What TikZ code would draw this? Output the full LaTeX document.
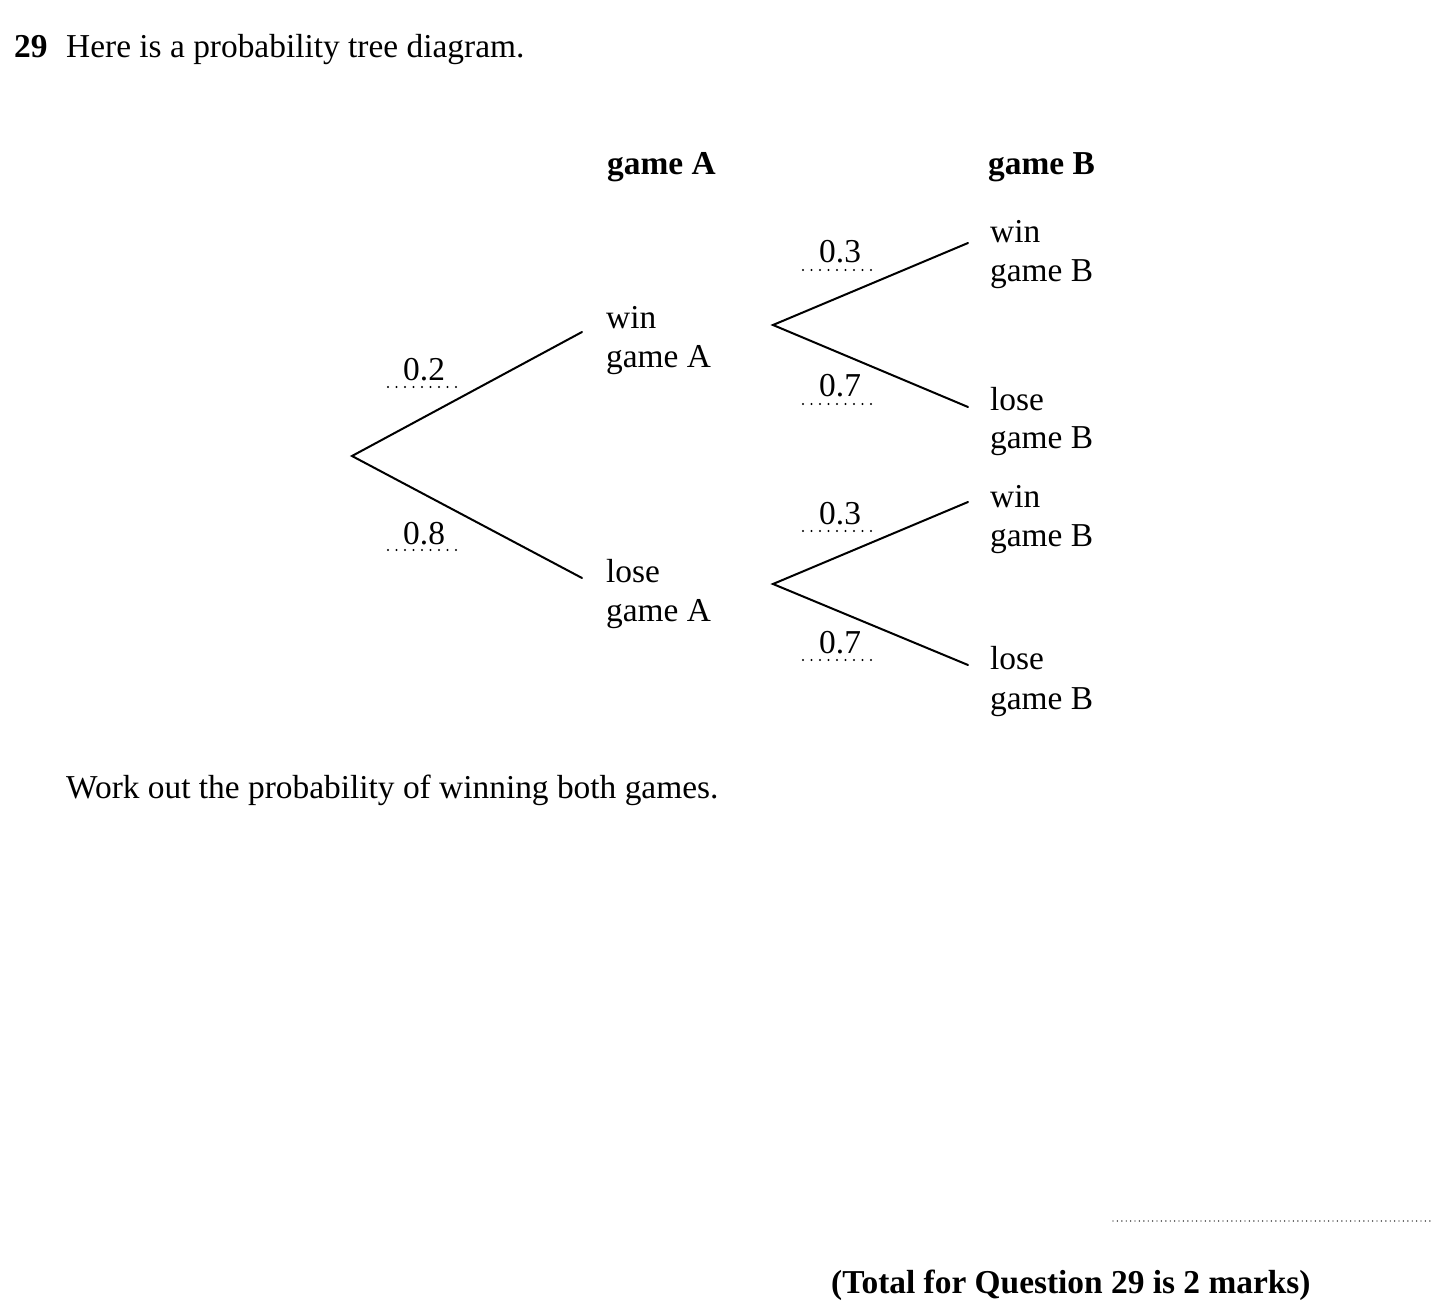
\documentclass[tikz,border=0pt]{standalone}
\usepackage{fontspec}
\setmainfont{Liberation Serif}
\begin{document}
\begin{tikzpicture}[x=1pt,y=-1pt,
  txt/.style={anchor=base west,inner sep=0pt,font=\fontsize{33.4}{39}\selectfont},
  btxt/.style={txt,font=\fontsize{33.4}{39}\selectfont\bfseries},
  branch/.style={line width=2pt,line cap=round},
  dots/.style={line width=2.2pt,line cap=round,dash pattern=on 0pt off 8.5pt}]
\useasboundingbox[fill=white] (0,0) rectangle (1446,1305);
% heading
\node[btxt] (qnum) at (14,58) {29};
\node[txt] (intro) at (66,58) {Here is a probability tree diagram.};
\node[btxt] (hA) at (607,175) {game A};
\node[btxt] (hB) at (988,175) {game B};
% tree points
\coordinate (root) at (352,456);
\coordinate (wA) at (582,332);
\coordinate (lA) at (582,578);
\coordinate (wAs) at (773,325);
\coordinate (lAs) at (773,584);
\coordinate (wAwB) at (968,243);
\coordinate (wAlB) at (968,407);
\coordinate (lAwB) at (968,502);
\coordinate (lAlB) at (968,665);
\draw[branch] (wA) -- (root) -- (lA);
\draw[branch] (wAwB) -- (wAs) -- (wAlB);
\draw[branch] (lAwB) -- (lAs) -- (lAlB);
% outcome labels
\node[txt] (wA1) at (606,329) {win};
\node[txt] (wA2) at (606,368) {game A};
\node[txt] (lA1) at (606,582) {lose};
\node[txt] (lA2) at (606,621) {game A};
\node[txt] (b11) at (990,243) {win};
\node[txt] (b12) at (990,282) {game B};
\node[txt] (b21) at (990,410) {lose};
\node[txt] (b22) at (990,449) {game B};
\node[txt] (b31) at (990,507) {win};
\node[txt] (b32) at (990,546) {game B};
\node[txt] (b41) at (990,669) {lose};
\node[txt] (b42) at (990,709) {game B};
% probabilities with dotted answer lines
\node[txt] (p1) at (403,381) {0.2};
\draw[dots] (388,387) -- (456.5,387);
\node[txt] (p2) at (403,544) {0.8};
\draw[dots] (388,550) -- (456.5,550);
\node[txt] (p3) at (819,263) {0.3};
\draw[dots] (803,270) -- (871.5,270);
\node[txt] (p4) at (819,397) {0.7};
\draw[dots] (803,404) -- (871.5,404);
\node[txt] (p5) at (819,524) {0.3};
\draw[dots] (803,531) -- (871.5,531);
\node[txt] (p6) at (819,653) {0.7};
\draw[dots] (803,660) -- (871.5,660);
% question
\node[txt] (work) at (66,798) {Work out the probability of winning both games.};
\draw[line width=1.4pt,line cap=round,dash pattern=on 0pt off 4.4pt] (1113,1221) -- (1430.5,1221);
\node[btxt] (total) at (831,1293) {(Total for Question 29 is 2 marks)};
\end{tikzpicture}
\end{document}
